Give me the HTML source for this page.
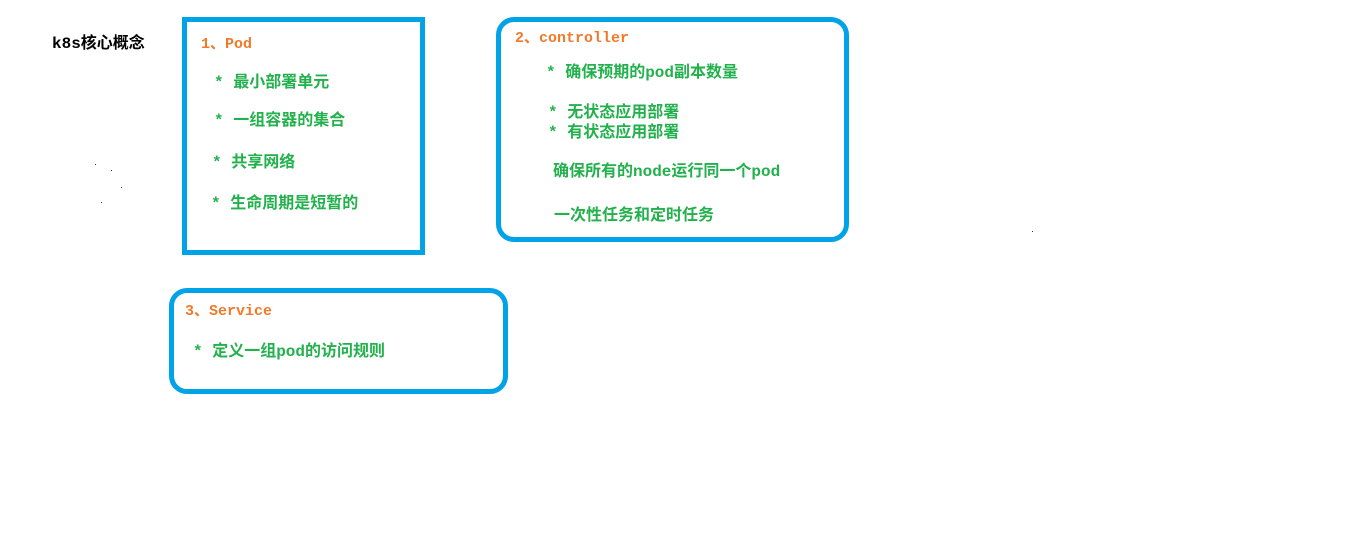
<!DOCTYPE html>
<html><head><meta charset="utf-8"><style>
body{margin:0;width:1365px;height:538px;background:#fff;position:relative;overflow:hidden;font-family:"Liberation Mono","Noto Sans CJK SC",monospace;font-weight:bold;font-size:16px}
.b{position:absolute;box-sizing:border-box;border:5px solid #00a2e8}
.t{position:absolute;white-space:nowrap;line-height:18px}
.o{color:#f07a2a;font-size:15px}
.g{color:#22b14c}
.d{position:absolute;width:1px;height:1px;background:#333}
</style></head><body>
<div class="t" style="left:52px;top:35px;color:#000">k8s核心概念</div>
<div class="d" style="left:95px;top:164px"></div><div class="d" style="left:111px;top:170px"></div>
<div class="d" style="left:121px;top:187px"></div><div class="d" style="left:101px;top:202px"></div>
<div class="d" style="left:1032px;top:231px"></div>

<div class="b" style="left:182px;top:17px;width:243px;height:238px"></div>
<div class="t o" style="left:201px;top:36px">1、Pod</div>
<div class="t g" style="left:214px;top:74px">* 最小部署单元</div>
<div class="t g" style="left:214px;top:112px">* 一组容器的集合</div>
<div class="t g" style="left:212px;top:154px">* 共享网络</div>
<div class="t g" style="left:211px;top:195px">* 生命周期是短暂的</div>

<div class="b" style="left:496px;top:17px;width:353px;height:225px;border-radius:18px"></div>
<div class="t o" style="left:515px;top:30px">2、controller</div>
<div class="t g" style="left:546px;top:64px">* 确保预期的pod副本数量</div>
<div class="t g" style="left:548px;top:104px">* 无状态应用部署</div>
<div class="t g" style="left:548px;top:124px">* 有状态应用部署</div>
<div class="t g" style="left:553px;top:163px">确保所有的node运行同一个pod</div>
<div class="t g" style="left:554px;top:207px">一次性任务和定时任务</div>

<div class="b" style="left:169px;top:288px;width:339px;height:106px;border-radius:18px"></div>
<div class="t o" style="left:185px;top:303px">3、Service</div>
<div class="t g" style="left:193px;top:343px">* 定义一组pod的访问规则</div>
</body></html>
